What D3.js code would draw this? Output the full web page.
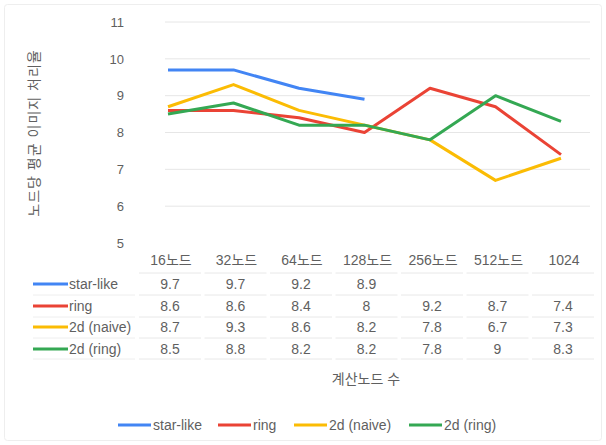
<!DOCTYPE html>
<html>
<head>
<meta charset="utf-8">
<script src="https://cdn.jsdelivr.net/npm/d3@7"></script>
<style>
  html, body { margin: 0; padding: 0; background: #fff; }
  svg { display: block; font-family: "Liberation Sans", Arial, "Noto Sans CJK KR", sans-serif; }
</style>
</head>
<body>
<svg id="chart" width="606" height="445"></svg>
<script>
// Node counts along the x axis
const categories = ["16노드", "32노드", "64노드", "128노드", "256노드", "512노드", "1024"];
const seriesNames = ["star-like", "ring", "2d (naive)", "2d (ring)"];
const starLike = [9.7, 9.7, 9.2, 8.9, null, null, null];
const ring = [8.6, 8.6, 8.4, 8, 9.2, 8.7, 7.4];
const naive2d = [8.7, 9.3, 8.6, 8.2, 7.8, 6.7, 7.3];
const ring2d = [8.5, 8.8, 8.2, 8.2, 7.8, 9, 8.3];
const yTicks = [5, 6, 7, 8, 9, 10, 11];
const colors = ["#4285F4", "#EA4335", "#FBBC04", "#34A853"];
const yTitle = "노드당 평균 이미지 처리율";
const xTitle = "계산노드 수";

const textColor = "#5f5f5f";

const series = [starLike, ring, naive2d, ring2d].map((vals, i) => ({
  name: seriesNames[i], values: vals, color: colors[i]
}));

const svg = d3.select("#chart");

// faint card outline
svg.append("rect")
  .attr("x", 4.5).attr("y", 4.5).attr("width", 597).attr("height", 436)
  .attr("rx", 3).attr("fill", "none").attr("stroke", "#eeeeee");

const x = d3.scalePoint().domain(categories).range([168, 561]);
const y = d3.scaleLinear().domain([5, 11]).range([243, 22]);

// horizontal gridlines
svg.append("g").selectAll("line").data(yTicks.filter(t => t > 5)).join("line")
  .attr("x1", 165).attr("x2", 590)
  .attr("y1", d => y(d)).attr("y2", d => y(d))
  .attr("stroke", "#e6e6e6").attr("stroke-width", 1);

// y axis labels
const yAxis = d3.axisLeft(y).tickValues(yTicks).tickSize(0).tickPadding(0).tickFormat(d3.format("d"));
const yg = svg.append("g").attr("transform", "translate(124,0)").call(yAxis);
yg.select(".domain").remove();
yg.selectAll("text").attr("font-size", 13).attr("fill", textColor)
  .attr("font-family", "Liberation Sans, Arial, sans-serif");

// y axis title
svg.append("text")
  .attr("transform", "translate(34,133) rotate(-90)")
  .attr("text-anchor", "middle").attr("dominant-baseline", "central")
  .attr("font-size", 14).attr("letter-spacing", 1).attr("fill", textColor)
  .text(yTitle);

// series lines
const line = d3.line()
  .defined(d => d.v != null)
  .x(d => x(d.c)).y(d => y(d.v));

svg.append("g").selectAll("path").data(series).join("path")
  .attr("d", s => line(s.values.map((v, i) => ({ c: categories[i], v }))))
  .attr("fill", "none").attr("stroke", s => s.color)
  .attr("stroke-width", 3).attr("stroke-linejoin", "round");

// data table
const rowY = [260, 284, 306, 327, 349];
const cellHalf = 31;
const table = svg.append("g").attr("font-size", 14).attr("fill", textColor);

// header cells
table.selectAll("text.head").data(categories).join("text")
  .attr("class", "head")
  .attr("x", d => x(d) + 3).attr("y", rowY[0])
  .attr("text-anchor", "middle").attr("dominant-baseline", "central")
  .text(d => d);

// row separators
const sepY = [273, 295, 317, 338, 359];
sepY.forEach(sy => {
  table.append("g").selectAll("line").data(categories).join("line")
    .attr("x1", d => x(d) - cellHalf + 2).attr("x2", d => x(d) + cellHalf + 2)
    .attr("y1", sy).attr("y2", sy)
    .attr("stroke", "#e8e8e8").attr("stroke-width", 1);
});
sepY.slice(1).forEach(sy => {
  table.append("line")
    .attr("x1", 33).attr("x2", 135).attr("y1", sy).attr("y2", sy)
    .attr("stroke", "#eeeeee").attr("stroke-width", 1);
});

// series rows
series.forEach((s, i) => {
  const ry = rowY[i + 1];
  table.append("line")
    .attr("x1", 33).attr("x2", 68).attr("y1", ry).attr("y2", ry)
    .attr("stroke", s.color).attr("stroke-width", 3);
  table.append("text")
    .attr("x", 69).attr("y", ry).attr("dominant-baseline", "central")
    .text(s.name);
  table.append("g").selectAll("text").data(s.values.map((v, j) => ({ v, c: categories[j] })).filter(d => d.v != null))
    .join("text")
    .attr("x", d => x(d.c) + 2).attr("y", ry)
    .attr("text-anchor", "middle").attr("dominant-baseline", "central")
    .text(d => d.v);
});

// x axis title
svg.append("text")
  .attr("x", 366).attr("y", 379)
  .attr("text-anchor", "middle").attr("dominant-baseline", "central")
  .attr("font-size", 14).attr("fill", textColor)
  .text(xTitle);

// legend
const legendX = [118, 218, 294, 409];
const legend = svg.append("g").attr("font-size", 14).attr("fill", textColor);
series.forEach((s, i) => {
  legend.append("line")
    .attr("x1", legendX[i]).attr("x2", legendX[i] + 33)
    .attr("y1", 425).attr("y2", 425)
    .attr("stroke", s.color).attr("stroke-width", 3);
  legend.append("text")
    .attr("x", legendX[i] + 35).attr("y", 425)
    .attr("dominant-baseline", "central")
    .text(s.name);
});
</script>
</body>
</html>
